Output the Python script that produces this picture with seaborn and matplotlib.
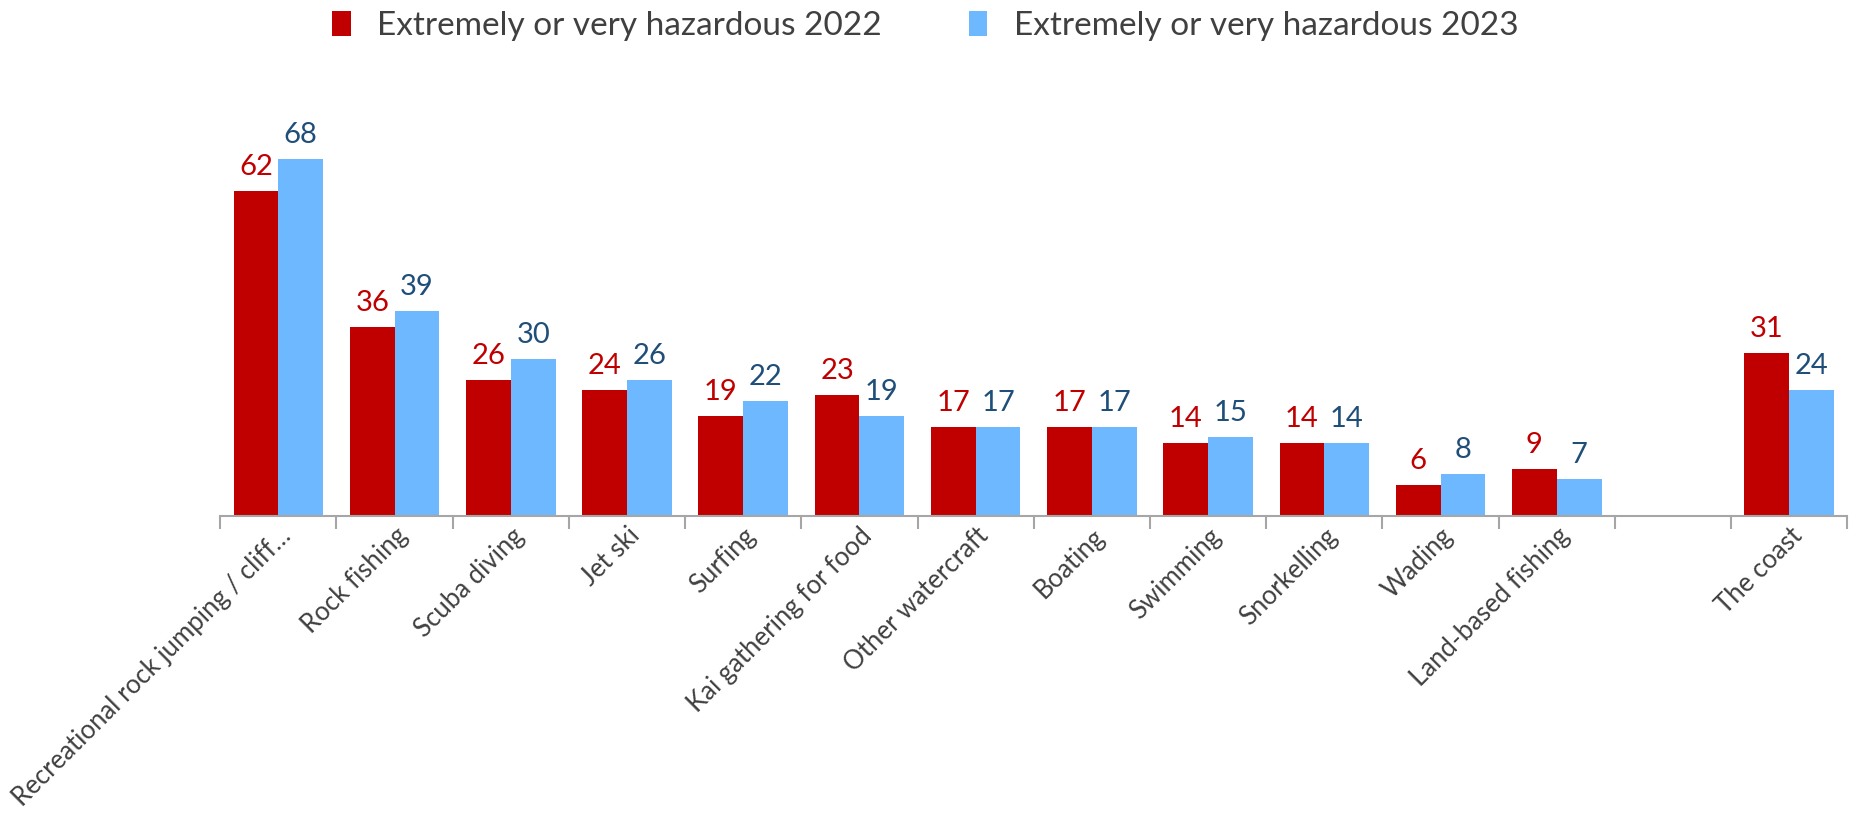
import matplotlib
matplotlib.use("Agg")
import matplotlib.pyplot as plt
import seaborn as sns
import pandas as pd
import numpy as np
from matplotlib.ticker import FixedLocator

categories = ["Recreational rock jumping / cliff…", "Rock fishing", "Scuba diving", "Jet ski",
              "Surfing", "Kai gathering for food", "Other watercraft", "Boating", "Swimming",
              "Snorkelling", "Wading", "Land-based fishing", " ", "The coast"]
values_2022 = [62, 36, 26, 24, 19, 23, 17, 17, 14, 14, 6, 9, None, 31]
values_2023 = [68, 39, 30, 26, 22, 19, 17, 17, 15, 14, 8, 7, None, 24]
series = ["Extremely or very hazardous 2022", "Extremely or very hazardous 2023"]

rows = []
for c, a, b in zip(categories, values_2022, values_2023):
    if a is not None:
        rows.append((c, series[0], a))
        rows.append((c, series[1], b))
df = pd.DataFrame(rows, columns=["cat", "series", "value"])

sns.set_theme(style="white")
plt.rcParams['font.family'] = ['Lato', 'DejaVu Sans']

fig = plt.figure(figsize=(18.51, 8.22), dpi=100)
ax = fig.add_axes([0.119, 0.372, 0.879, 0.511])

red = "#C00000"
blue = "#6DB8FF"
sns.barplot(data=df, x="cat", y="value", hue="series", order=categories, hue_order=series,
            palette=[red, blue], width=0.77, ax=ax, legend=True, saturation=1, linewidth=0)

ax.set_ylim(0, 80)
ax.set_xlim(-0.5, len(categories) - 0.5)
label_colors = [red, "#1F4E79"]
for cont, col in zip(ax.containers, label_colors):
    labels = []
    for r in cont:
        h = r.get_height()
        labels.append("" if (h is None or np.isnan(h)) else f"{h:.0f}")
    ax.bar_label(cont, labels=labels, padding=8, color=col, fontsize=21)

for s in ["top", "right", "left"]:
    ax.spines[s].set_visible(False)
ax.spines["bottom"].set_color("#A6A6A6")
ax.spines["bottom"].set_linewidth(1.5)
ax.set_yticks([])
ax.set_xlabel("")
ax.set_ylabel("")
ax.xaxis.set_minor_locator(FixedLocator(np.arange(-0.5, len(categories), 1.0)))
ax.tick_params(axis="x", which="minor", length=9, width=1.5, color="#A6A6A6", bottom=True)
ax.tick_params(axis="x", which="major", length=0, pad=5)
ax.set_xticks(range(len(categories)))
ax.set_xticklabels(categories, rotation=45, ha="right", rotation_mode="anchor",
                   fontsize=18.5, color="#404040")

leg = ax.legend(loc="center", bbox_to_anchor=(0.5, 0.968), bbox_transform=fig.transFigure,
                ncol=2, frameon=False, fontsize=24, handlelength=0.55, handleheight=0.75,
                columnspacing=2.6, handletextpad=0.8)
for t in leg.get_texts():
    t.set_color("#404040")

fig.savefig("out.png", dpi=100)
